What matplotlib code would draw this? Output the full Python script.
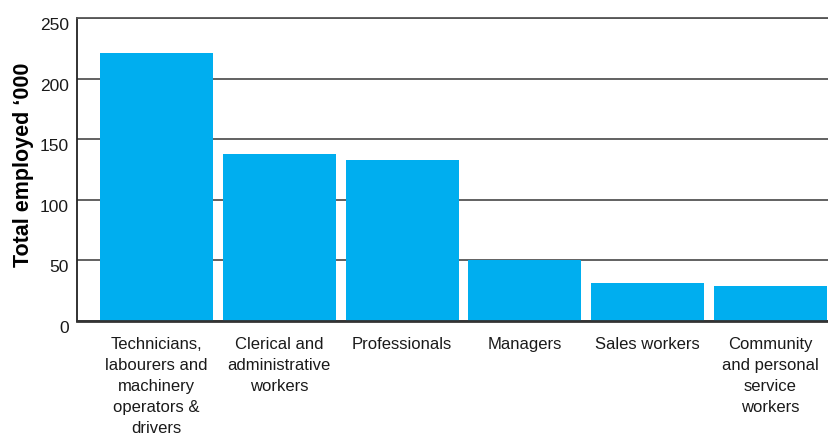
import matplotlib.pyplot as plt
import matplotlib.transforms as mtransforms

# Employment by occupation group
occupations = [
    "Technicians,\nlabourers and\nmachinery\noperators &\ndrivers",
    "Clerical and\nadministrative\nworkers",
    "Professionals",
    "Managers",
    "Sales workers",
    "Community\nand personal\nservice\nworkers",
]
employed = [221, 138, 133, 50, 31, 29]
yticks = [0, 50, 100, 150, 200, 250]

plt.rcParams['font.family'] = ['Liberation Sans', 'DejaVu Sans']

fig = plt.figure(figsize=(8.29, 4.35), dpi=100)
ax = fig.add_axes([0.093, 0.26, 0.906, 0.696])

x = list(range(len(occupations)))
ax.bar(x, employed, width=0.92, color="#00AEEF", zorder=2)

ax.set_xlim(-0.647, 5.47)
ax.set_ylim(0, 250)
ax.set_yticks(yticks)
ax.set_xticks(x)
ax.set_xticklabels(occupations, fontsize=12, color="#1a1a1a", va="top", linespacing=1.5)
ax.tick_params(axis="y", labelsize=12.5, length=0, pad=6, labelcolor="#1a1a1a")
ax.tick_params(axis="x", length=0, pad=11)

# nudge the y tick labels a little below their gridlines
shift = mtransforms.ScaledTranslation(0, -3.5 / 72, fig.dpi_scale_trans)
for lbl in ax.get_yticklabels():
    lbl.set_transform(lbl.get_transform() + shift)

# horizontal gridlines behind the bars
ax.yaxis.grid(True, color="#555555", linewidth=1.3, zorder=0)
ax.set_axisbelow(True)

ax.spines["right"].set_visible(False)
ax.spines["top"].set_color("#555555")
ax.spines["top"].set_linewidth(1.3)
ax.spines["left"].set_color("#222222")
ax.spines["left"].set_linewidth(1.3)
ax.spines["bottom"].set_color("#333333")
ax.spines["bottom"].set_linewidth(2)

ax.set_ylabel("Total employed \u2018000", fontsize=15.5, fontweight="bold")
ax.yaxis.set_label_coords(-0.058, 0.518)

fig.savefig("out.png", dpi=100)
